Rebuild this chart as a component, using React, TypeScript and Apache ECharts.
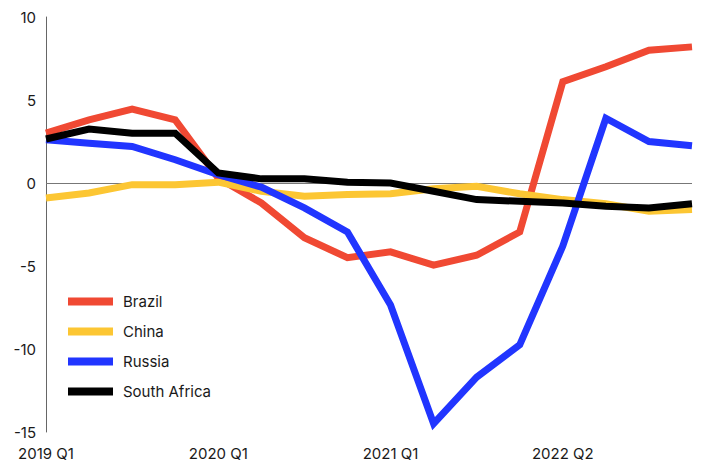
import React, { useEffect, useRef } from "react";
import * as echarts from "echarts";

const categories = [
  "2019 Q1", "2019 Q2", "2019 Q3", "2019 Q4",
  "2020 Q1", "2020 Q2", "2020 Q3", "2020 Q4",
  "2021 Q1", "2021 Q2", "2021 Q3", "2021 Q4",
  "2022 Q2", "2022 Q3", "2022 Q4", "2023 Q1",
];
const shownLabels = ["2019 Q1", "2020 Q1", "2021 Q1", "2022 Q2"];

const brazil = [3.0, 3.8, 4.45, 3.8, 0.3, -1.2, -3.3, -4.5, -4.15, -4.95, -4.35, -2.95, 6.1, 7.0, 8.0, 8.2];
const china = [-0.9, -0.6, -0.1, -0.1, 0.05, -0.5, -0.8, -0.7, -0.65, -0.35, -0.2, -0.65, -1.0, -1.25, -1.7, -1.6];
const russia = [2.6, 2.4, 2.2, 1.4, 0.5, -0.25, -1.5, -2.95, -7.35, -14.5, -11.7, -9.75, -3.8, 3.9, 2.5, 2.25];
const southAfrica = [2.65, 3.25, 3.0, 3.0, 0.6, 0.25, 0.25, 0.05, 0.0, -0.5, -1.0, -1.1, -1.2, -1.4, -1.5, -1.25];

const seriesDefs = [
  { name: "Brazil", data: brazil, color: "#F04933" },
  { name: "China", data: china, color: "#FCC633" },
  { name: "Russia", data: russia, color: "#2135FF" },
  { name: "South Africa", data: southAfrica, color: "#000000" },
];

const FONT = "Inter, 'Noto Sans', sans-serif";

export default function App() {
  const ref = useRef<HTMLDivElement>(null);
  useEffect(() => {
    if (!ref.current) return;
    const chart = echarts.init(ref.current, undefined, { renderer: "svg" });
    chart.setOption({
      animation: false,
      backgroundColor: "#ffffff",
      grid: { left: 46, right: 10, top: 17, bottom: 31 },
      legend: {
        orient: "vertical",
        left: 68,
        top: 294,
        padding: 0,
        icon: "rect",
        itemWidth: 45,
        itemHeight: 8,
        itemGap: 15,
        textStyle: { fontFamily: FONT, fontSize: 15, color: "#1a1a1a", padding: [0, 0, 0, 5] },
        data: seriesDefs.map((s) => s.name),
      },
      xAxis: {
        type: "category",
        data: categories,
        boundaryGap: false,
        axisLine: { show: false },
        axisTick: { show: false },
        splitLine: { show: false },
        axisLabel: {
          interval: 0,
          margin: 14,
          fontFamily: FONT,
          fontSize: 15,
          color: "#1a1a1a",
          formatter: (v: string) => (shownLabels.includes(v) ? v : ""),
        },
      },
      yAxis: {
        type: "value",
        min: -15,
        max: 10,
        interval: 5,
        axisLine: { show: true, lineStyle: { color: "#666", width: 1 } },
        axisTick: { show: false },
        splitLine: { show: false },
        axisLabel: { margin: 10, fontFamily: FONT, fontSize: 15, color: "#1a1a1a" },
      },
      series: seriesDefs.map((s, i) => ({
        name: s.name,
        type: "line",
        data: s.data,
        symbol: "none",
        color: s.color,
        lineStyle: { width: 7, color: s.color, join: "miter" },
        z: 2 + i,
        markLine:
          i === 0
            ? {
                silent: true,
                symbol: "none",
                label: { show: false },
                lineStyle: { color: "#777", width: 1, type: "solid" },
                data: [{ yAxis: 0 }],
                z: 1,
              }
            : undefined,
      })),
    });
    return () => chart.dispose();
  }, []);
  return (
    <div
      ref={ref}
      style={{ position: "fixed", left: 0, top: 0, width: 702, height: 463 }}
    />
  );
}
